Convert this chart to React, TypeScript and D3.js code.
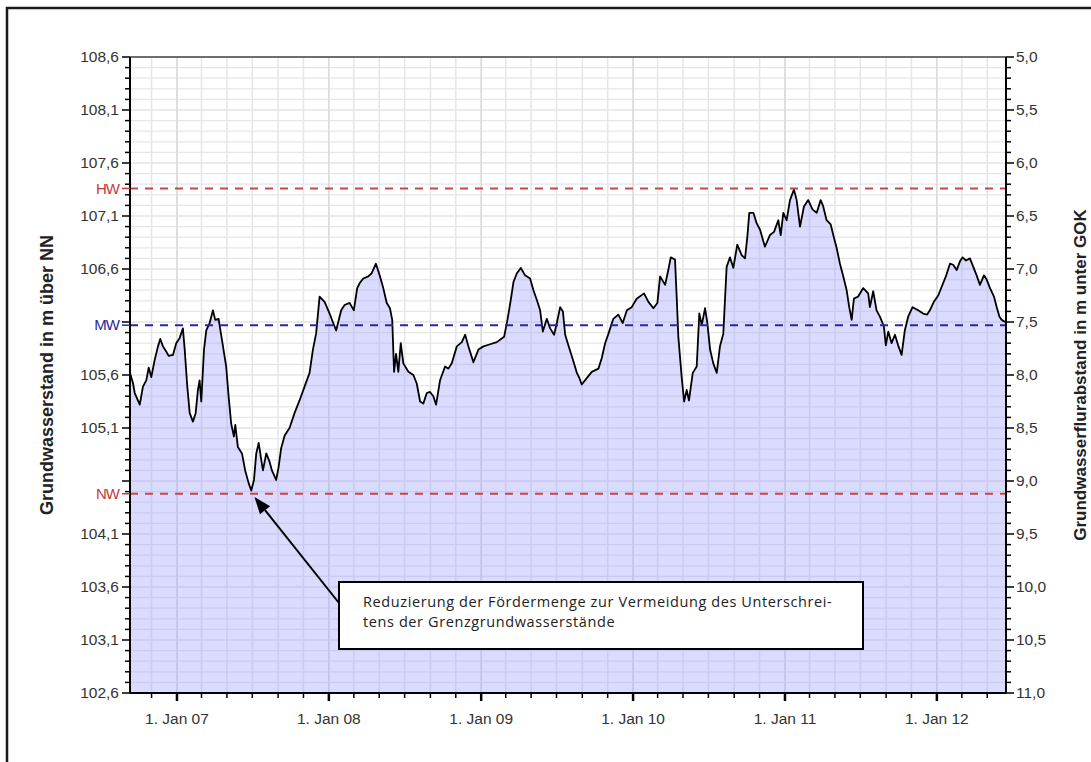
import React from 'react';
import * as d3 from 'd3';

// decimal years of the readings
const years = [
2006.691,2006.711,2006.722,2006.755,2006.776,2006.798,2006.814,2006.831,2006.853,2006.875,
2006.890,2006.908,2006.930,2006.945,2006.974,2006.995,2007.018,2007.039,2007.051,2007.068,
2007.084,2007.105,2007.123,2007.138,2007.149,2007.160,2007.178,2007.193,2007.215,2007.237,
2007.252,2007.274,2007.303,2007.324,2007.340,2007.357,2007.375,2007.384,2007.401,2007.428,
2007.449,2007.472,2007.489,2007.507,2007.522,2007.538,2007.555,2007.566,2007.588,2007.610,
2007.625,2007.653,2007.669,2007.686,2007.709,2007.741,2007.774,2007.807,2007.840,2007.873,
2007.895,2007.916,2007.939,2007.972,2008.005,2008.026,2008.048,2008.081,2008.103,2008.136,
2008.164,2008.186,2008.204,2008.226,2008.259,2008.281,2008.309,2008.336,2008.357,2008.380,
2008.401,2008.416,2008.428,2008.441,2008.456,2008.472,2008.489,2008.522,2008.555,2008.577,
2008.599,2008.620,2008.643,2008.664,2008.686,2008.704,2008.730,2008.763,2008.785,2008.807,
2008.840,2008.873,2008.895,2008.916,2008.949,2008.982,2009.015,2009.059,2009.103,2009.151,
2009.173,2009.195,2009.213,2009.235,2009.261,2009.289,2009.322,2009.344,2009.366,2009.388,
2009.406,2009.432,2009.454,2009.480,2009.498,2009.520,2009.538,2009.553,2009.574,2009.607,
2009.630,2009.647,2009.662,2009.695,2009.728,2009.772,2009.794,2009.816,2009.838,2009.870,
2009.903,2009.932,2009.959,2009.991,2010.024,2010.072,2010.101,2010.134,2010.160,2010.178,
2010.211,2010.232,2010.248,2010.276,2010.288,2010.298,2010.320,2010.336,2010.353,2010.368,
2010.393,2010.419,2010.436,2010.452,2010.474,2010.489,2010.507,2010.528,2010.551,2010.572,
2010.594,2010.616,2010.638,2010.660,2010.686,2010.715,2010.737,2010.752,2010.765,2010.792,
2010.814,2010.836,2010.868,2010.901,2010.928,2010.956,2010.972,2010.989,2011.011,2011.033,
2011.059,2011.077,2011.099,2011.125,2011.153,2011.182,2011.209,2011.235,2011.252,2011.274,
2011.301,2011.318,2011.340,2011.362,2011.384,2011.406,2011.423,2011.439,2011.454,2011.482,
2011.515,2011.548,2011.559,2011.581,2011.603,2011.625,2011.651,2011.664,2011.680,2011.702,
2011.724,2011.745,2011.768,2011.789,2011.811,2011.840,2011.877,2011.910,2011.936,2011.954,
2011.980,2012.009,2012.031,2012.059,2012.086,2012.107,2012.130,2012.151,2012.169,2012.191,
2012.217,2012.239,2012.261,2012.283,2012.309,2012.327,2012.349,2012.375,2012.393,2012.411,
2012.426,2012.448
];

// groundwater level in m above NN
const levels = [
105.62,105.52,105.43,105.32,105.49,105.55,105.67,105.58,105.74,105.87,
105.94,105.87,105.82,105.78,105.79,105.90,105.95,106.04,105.84,105.49,
105.24,105.16,105.24,105.46,105.55,105.35,105.84,106.02,106.09,106.21,
106.12,106.13,105.87,105.68,105.40,105.14,105.02,105.13,104.92,104.86,
104.70,104.58,104.51,104.61,104.86,104.96,104.80,104.70,104.86,104.78,
104.70,104.61,104.73,104.91,105.03,105.10,105.24,105.36,105.49,105.62,
105.84,105.99,106.34,106.29,106.18,106.10,106.02,106.21,106.26,106.28,
106.21,106.42,106.47,106.51,106.53,106.56,106.65,106.53,106.42,106.28,
106.23,106.12,105.63,105.80,105.63,105.90,105.71,105.63,105.60,105.52,
105.35,105.33,105.43,105.44,105.40,105.32,105.55,105.68,105.66,105.71,
105.87,105.91,105.98,105.87,105.72,105.84,105.87,105.89,105.91,105.96,
106.12,106.31,106.48,106.56,106.61,106.54,106.51,106.40,106.31,106.21,
106.01,106.13,106.04,105.98,106.09,106.24,106.20,105.98,105.88,105.73,
105.62,105.57,105.51,105.57,105.63,105.66,105.76,105.90,105.99,106.13,
106.17,106.09,106.21,106.24,106.32,106.37,106.29,106.23,106.28,106.53,
106.45,106.59,106.71,106.69,106.31,105.96,105.58,105.35,105.46,105.36,
105.62,105.68,106.18,106.07,106.23,106.09,105.84,105.71,105.62,105.87,
105.99,106.62,106.71,106.61,106.83,106.73,106.70,106.90,107.13,107.13,
107.03,106.97,106.81,106.92,106.95,107.06,106.92,107.13,107.06,107.25,
107.35,107.25,107.00,107.19,107.25,107.16,107.13,107.25,107.19,107.06,
107.02,106.92,106.80,106.65,106.53,106.40,106.24,106.12,106.32,106.34,
106.42,106.37,106.24,106.39,106.21,106.15,106.06,105.88,106.01,105.90,
105.98,105.88,105.79,106.02,106.15,106.24,106.21,106.18,106.17,106.21,
106.29,106.35,106.43,106.53,106.65,106.64,106.59,106.67,106.71,106.68,
106.70,106.62,106.54,106.45,106.54,106.50,106.42,106.34,106.24,106.15,
106.12,106.10
];

const xDomainYears = [2006.6908, 2012.4539];
const yDomain = [102.6, 108.6];
const GOK = 113.6; // ground level, m above NN
const leftTickValues = [108.6, 108.1, 107.6, 107.1, 106.6, 106.1, 105.6, 105.1, 104.6, 104.1, 103.6, 103.1, 102.6];
const hiddenLeftLabels = [106.1, 104.6];
const rightTickValues = [5.0, 5.5, 6.0, 6.5, 7.0, 7.5, 8.0, 8.5, 9.0, 9.5, 10.0, 10.5, 11.0];
const refNames = ['HW', 'MW', 'NW'];
const refValues = [107.36, 106.07, 104.48];
const leftTitle = 'Grundwasserstand in m über NN';
const rightTitle = 'Grundwasserflurabstand in m unter GOK';
const annotationLines = [
  'Reduzierung der Fördermenge zur Vermeidung des Unterschrei-',
  'tens der Grenzgrundwasserstände',
];
const annotationTarget = [2007.51, 104.45];

const refColors: Record<string, string> = { HW: '#c83a3a', MW: '#2a2a9a', NW: '#c83a3a' };
const lineColors: Record<string, string> = { HW: '#cc4444', MW: '#28289e', NW: '#cc4444' };

function toDate(t: number): Date {
  const y = Math.floor(t);
  const s = Date.UTC(y, 0, 1);
  const e = Date.UTC(y + 1, 0, 1);
  return new Date(s + (t - y) * (e - s));
}

const L = 130, R = 1006, T = 57, B = 693;
const FONT = '"Liberation Sans", Arial, sans-serif';

export default function App() {
  const x = d3.scaleUtc().domain([toDate(xDomainYears[0]), toDate(xDomainYears[1])]).range([L, R]);
  const y = d3.scaleLinear().domain(yDomain).range([B, T]);
  const yR = d3.scaleLinear().domain([GOK - yDomain[0], GOK - yDomain[1]]).range([B, T]);

  const data = years.map((t, i) => ({ date: toDate(t), v: levels[i] }));
  const area = d3.area<any>().x(d => x(d.date)).y0(B).y1(d => y(d.v));
  const line = d3.line<any>().x(d => x(d.date)).y(d => y(d.v));

  const minorY = d3.range(0, 61).map(i => yDomain[0] + i * 0.1);
  const minorR = d3.range(0, 61).map(i => 5 + i * 0.1);
  const [d0, d1] = x.domain();
  const monthTicks = d3.utcMonth.every(2)!.range(d0, d1);
  const yearTicks = d3.utcYear.range(d0, d1);

  const fmt = (v: number) => v.toFixed(1).replace('.', ',');

  // annotation arrow
  const tx = x(toDate(annotationTarget[0]));
  const ty = y(annotationTarget[1]);
  const sx = 339, sy = 603;
  const ang = Math.atan2(ty - sy, tx - sx);
  const ah = 17, aw = 6.5;
  const bx = tx - ah * Math.cos(ang), by = ty - ah * Math.sin(ang);
  const head = [
    [tx, ty],
    [bx + aw * Math.sin(ang), by - aw * Math.cos(ang)],
    [bx - aw * Math.sin(ang), by + aw * Math.cos(ang)],
  ].map(p => p.join(',')).join(' ');

  return (
    <svg width={1091} height={762} style={{ position: 'absolute', left: 0, top: 0, background: '#fff' }}
      fontFamily={FONT}>
      <rect x={7} y={8} width={1200} height={800} fill="#fff" stroke="#1a1a1a" strokeWidth={2.5} />

      {/* grid */}
      <g>
        {minorY.map((v, i) => (
          <line key={'gy' + i} x1={L} x2={R} y1={y(v)} y2={y(v)}
            stroke={i % 5 === 0 ? '#d8d8d8' : '#e6e6e6'} strokeWidth={1.2} />
        ))}
        {monthTicks.map((d, i) => (
          <line key={'gx' + i} x1={x(d)} x2={x(d)} y1={T} y2={B}
            stroke={d.getUTCMonth() === 0 ? '#dcdcdc' : '#e6e6e6'} strokeWidth={d.getUTCMonth() === 0 ? 1.8 : 1.5} />
        ))}
      </g>

      {/* area + line */}
      <path d={area(data) as string} fill="#9a9aff" fillOpacity={0.36} />
      <path d={line(data) as string} fill="none" stroke="#000" strokeWidth={1.8} strokeLinejoin="round" />

      {/* reference lines */}
      {refNames.map((n, i) => (
        <line key={'ref' + n} x1={L} x2={R} y1={y(refValues[i])} y2={y(refValues[i])}
          stroke={lineColors[n]} strokeWidth={2} strokeDasharray="8,7" />
      ))}

      {/* frame of plot */}
      <line x1={L} x2={R} y1={T} y2={T} stroke="#444" strokeWidth={1.5} />
      <line x1={L} x2={L} y1={T} y2={B} stroke="#000" strokeWidth={2} />
      <line x1={R} x2={R} y1={T} y2={B} stroke="#000" strokeWidth={2} />
      <line x1={L} x2={R} y1={B} y2={B} stroke="#000" strokeWidth={2} />

      {/* left axis */}
      {minorY.map((v, i) => (
        <line key={'ty' + i} x1={i % 5 === 0 ? L - 8 : L - 5} x2={L} y1={y(v)} y2={y(v)} stroke="#000" strokeWidth={1.5} />
      ))}
      {leftTickValues.filter(v => !hiddenLeftLabels.includes(v)).map(v => (
        <text key={'ly' + v} x={L - 11} y={y(v)} dy="0.35em" textAnchor="end" fontSize={15.5} fill="#333">{fmt(v)}</text>
      ))}
      {refNames.map((n, i) => (
        <g key={'rl' + n}>
          <line x1={L - 8} x2={L} y1={y(refValues[i])} y2={y(refValues[i])} stroke={refColors[n]} strokeWidth={1.5} />
          <text x={L - 11} y={y(refValues[i])} dy="0.35em" textAnchor="end" fontSize={15} fill={refColors[n]}
            letterSpacing={-1}>{n}</text>
        </g>
      ))}

      {/* right axis */}
      {minorR.map((v, i) => (
        <line key={'tr' + i} x1={R} x2={i % 5 === 0 ? R + 8 : R + 5} y1={yR(v)} y2={yR(v)} stroke="#000" strokeWidth={1.5} />
      ))}
      {rightTickValues.map(v => (
        <text key={'ry' + v} x={R + 10} y={yR(v)} dy="0.35em" textAnchor="start" fontSize={15.5} fill="#333">{fmt(v)}</text>
      ))}

      {/* bottom axis */}
      {monthTicks.map((d, i) => (
        <line key={'tx' + i} x1={x(d)} x2={x(d)} y1={B} y2={d.getUTCMonth() === 0 ? B + 8 : B + 5}
          stroke="#000" strokeWidth={d.getUTCMonth() === 0 ? 2.5 : 1.5} />
      ))}
      {yearTicks.map((d, i) => (
        <text key={'lx' + i} x={x(d)} y={B + 31} textAnchor="middle" fontSize={15.5} fill="#333">
          {'1. Jan ' + d3.utcFormat('%y')(d)}
        </text>
      ))}

      {/* axis titles */}
      <text transform={`translate(53,${(T + B) / 2}) rotate(-90)`} textAnchor="middle" fontSize={18}
        fontWeight="bold" fill="#222">{leftTitle}</text>
      <text transform={`translate(1086,${(T + B) / 2}) rotate(-90)`} textAnchor="middle" fontSize={17}
        fontWeight="bold" fill="#222">{rightTitle}</text>

      {/* annotation */}
      <line x1={sx} y1={sy} x2={bx} y2={by} stroke="#000" strokeWidth={2} />
      <polygon points={head} fill="#000" />
      <rect x={339} y={582} width={524} height={67} fill="#fff" stroke="#000" strokeWidth={2} />
      {annotationLines.map((s, i) => (
        <text key={'an' + i} x={363} y={607 + i * 20} fontSize={14.5} letterSpacing={0.6} fill="#222"
          fontFamily='"Open Sans", "DejaVu Sans", sans-serif'>{s}</text>
      ))}
    </svg>
  );
}
